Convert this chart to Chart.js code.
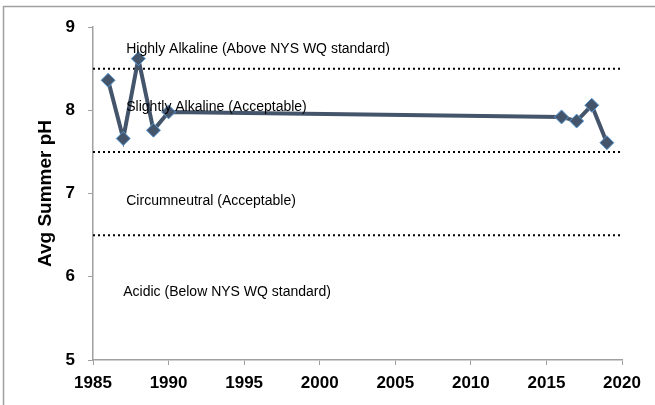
<!DOCTYPE html>
<html>
<head>
<meta charset="utf-8">
<script src="https://cdn.jsdelivr.net/npm/chart.js@4"></script>
<style>
  html, body { margin:0; padding:0; background:#fff; }
  #wrap { width:655px; height:405px; position:relative; }
</style>
</head>
<body>
<div id="wrap"><canvas id="phChart" width="655" height="405"></canvas></div>
<script>
// chart data
const years = [1986, 1987, 1988, 1989, 1990, 2016, 2017, 2018, 2019];
const avgPH = [8.36, 7.66, 8.62, 7.76, 7.98, 7.92, 7.87, 8.06, 7.61];
const thresholds = [8.5, 7.5, 6.5]; // dotted class boundaries
const xTicks = [1985, 1990, 1995, 2000, 2005, 2010, 2015, 2020];
const yTicks = [5, 6, 7, 8, 9];
const zoneLabels = ['Highly Alkaline (Above NYS WQ standard)', 'Slightly Alkaline (Acceptable)', 'Circumneutral (Acceptable)', 'Acidic (Below NYS WQ standard)'];
const zoneYear = [1987.2, 1987.2, 1987.2, 1987.0];
const zonePH = [8.74, 8.04, 6.91, 5.82];

const series = years.map((y,i)=>({x:y, y:avgPH[i]}));
const lineSets = thresholds.map(t=>({
  data:[{x:xTicks[0], y:t},{x:xTicks[xTicks.length-1], y:t}],
  borderColor:'#000', borderWidth:2, borderDash:[2,3], borderCapStyle:'butt',
  pointRadius:0, showLine:true, fill:false, order:2
}));

// outer frame + zone text
const extras = {
  id:'extras',
  beforeDraw(c){
    const ctx=c.ctx;
    ctx.save();
    ctx.strokeStyle='#a0a0a0'; ctx.lineWidth=1.5;
    ctx.strokeRect(3.5, 6.5, 700, 500);
    ctx.restore();
  },
  afterDatasetsDraw(c){
    const ctx=c.ctx, xs=c.scales.x, ys=c.scales.y;
    ctx.save();
    ctx.font='14px "Liberation Sans", Arial, sans-serif';
    ctx.fillStyle='#000'; ctx.textBaseline='middle'; ctx.textAlign='left';
    zoneLabels.forEach((t,i)=> ctx.fillText(t, xs.getPixelForValue(zoneYear[i]), ys.getPixelForValue(zonePH[i])));
    ctx.restore();
  }
};

new Chart(document.getElementById('phChart'), {
  type:'scatter',
  data:{ datasets:[
    { data:series, showLine:true, borderColor:'#44546A', borderWidth:4,
      pointStyle:'rectRot', pointRadius:7, pointHoverRadius:7,
      pointBackgroundColor:'#44546A', pointBorderColor:'#5B9BD5', pointBorderWidth:1, order:1 },
    ...lineSets
  ]},
  options:{
    responsive:false, animation:false,
    layout:{ padding:{ top:27, right:33, left:0, bottom:0 } },
    plugins:{ legend:{display:false}, tooltip:{enabled:false} },
    scales:{
      x:{ type:'linear', min:1985, max:2020,
        afterBuildTicks:s=>{ s.ticks = xTicks.map(v=>({value:v})); },
        afterFit:s=>{ s.height = 45; },
        grid:{ drawOnChartArea:false, tickLength:5, color:'#a0a0a0' },
        border:{ color:'#a0a0a0', width:1.5 },
        ticks:{ color:'#000', padding:8, maxRotation:0, callback:v=>String(v),
          font:{ family:'"Liberation Sans", Arial', size:17, weight:'bold' } }
      },
      y:{ min:5, max:9,
        afterBuildTicks:s=>{ s.ticks = yTicks.map(v=>({value:v})); },
        afterFit:s=>{ s.width = 93; },
        grid:{ drawOnChartArea:false, tickLength:5, color:'#a0a0a0' },
        border:{ color:'#a0a0a0', width:1.5 },
        ticks:{ color:'#000', padding:13, font:{ family:'"Liberation Sans", Arial', size:17, weight:'bold' } },
        title:{ display:true, text:'Avg Summer pH', color:'#000', padding:{top:34, bottom:0},
          font:{ family:'"Liberation Sans", Arial', size:19, weight:'bold' } }
      }
    }
  },
  plugins:[extras]
});
</script>
</body>
</html>
